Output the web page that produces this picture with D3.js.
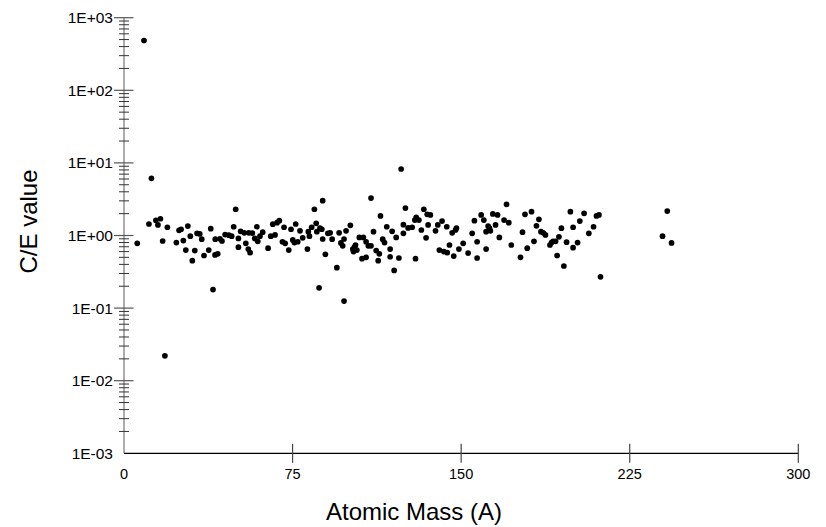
<!DOCTYPE html>
<html lang="en">
<head>
<meta charset="UTF-8">
<title>C/E value vs Atomic Mass</title>
<script src="https://d3js.org/d3.v7.min.js"></script>
<style>
    body { margin: 0; background: #fff; }
    svg text { font-family: "Liberation Sans", Arial, sans-serif; fill: #000; }
</style>
</head>
<body>
<svg id="chart" width="826" height="527"></svg>
<script>
// values
const atomicMass = [
    5.9, 8.9, 11.1, 12.2, 14.2, 15.1, 16.2, 17.2, 18.2, 19.3,
    23.3, 24.5, 25.4, 26.4, 27.5, 28.4, 29.5, 30.4, 31.5, 32.5,
    33.7, 34.6, 35.6, 37.7, 38.6, 39.6, 40.6, 40.5, 41.7, 42.7,
    43.6, 45.0, 46.7, 47.9, 48.8, 49.7, 50.9, 50.9, 51.9, 53.5,
    54.2, 55.3, 56.1, 55.5, 57.1, 58.2, 59.1, 59.5, 60.5, 61.7,
    64.1, 65.3, 66.2, 67.2, 68.1, 69.1, 70.5, 71.2, 71.7, 73.3,
    74.3, 75.1, 75.8, 76.4, 77.3, 78.3, 79.5, 81.6, 82.0, 82.5,
    83.5, 84.7, 85.5, 85.8, 86.8, 87.2, 88.0, 88.4, 88.4, 89.6,
    90.7, 91.7, 92.6, 94.7, 95.7, 96.5, 97.3, 97.9, 97.9, 98.8,
    100.7, 101.8, 102.1, 102.5, 103.0, 103.6, 104.7, 105.9, 106.5, 107.7,
    107.7, 108.7, 109.9, 109.9, 111.0, 112.2, 113.1, 113.6, 114.1, 115.1,
    115.9, 116.9, 118.4, 118.4, 119.3, 120.2, 121.1, 122.3, 123.3, 124.3,
    124.3, 125.2, 126.4, 128.2, 129.4, 129.7, 130.0, 131.2, 132.3, 133.4,
    134.4, 134.9, 135.3, 136.3, 138.6, 139.6, 140.3, 141.5, 142.3, 143.6,
    143.8, 144.8, 146.0, 146.7, 147.5, 147.9, 149.0, 150.9, 153.1, 154.9,
    155.9, 157.1, 157.1, 158.9, 160.1, 161.1, 161.1, 162.0, 162.6, 163.0,
    164.1, 165.3, 166.2, 167.0, 169.1, 170.2, 171.2, 172.3, 176.4, 177.3,
    178.4, 179.4, 181.3, 182.4, 183.5, 184.6, 185.5, 186.5, 187.5, 189.5,
    190.2, 190.9, 192.0, 192.7, 193.5, 194.6, 195.7, 196.9, 198.6, 199.8,
    199.8, 201.8, 202.8, 204.7, 206.8, 208.9, 210.2, 211.3, 212.0, 239.6,
    241.7, 243.6
];
const ceValue = [
    0.78, 485, 1.44, 6.14, 1.62, 1.40, 1.70, 0.84, 0.022, 1.30,
    0.80, 1.18, 1.22, 0.85, 0.63, 1.35, 0.98, 0.45, 0.62, 1.07,
    1.05, 0.89, 0.53, 0.63, 1.24, 0.18, 0.89, 0.54, 0.56, 0.90,
    0.84, 1.03, 1.01, 0.98, 1.32, 2.30, 0.91, 0.69, 1.14, 1.09,
    0.78, 0.65, 0.58, 1.09, 1.08, 0.91, 1.32, 0.83, 0.98, 1.11,
    0.67, 0.98, 1.43, 1.02, 1.50, 1.60, 0.82, 1.30, 0.78, 0.63,
    1.22, 0.87, 0.80, 1.44, 0.82, 1.16, 0.93, 0.65, 1.13, 0.98,
    1.30, 2.30, 1.47, 1.13, 0.19, 1.26, 1.22, 3.02, 0.895, 0.55,
    1.07, 1.09, 0.89, 0.36, 1.09, 0.79, 0.72, 0.895, 0.125, 1.16,
    1.38, 0.65, 0.60, 0.69, 0.74, 0.63, 0.94, 0.48, 0.94, 0.82,
    0.50, 0.72, 3.28, 0.72, 1.13, 0.62, 0.45, 0.56, 1.86, 0.89,
    0.80, 1.32, 0.65, 0.51, 1.14, 0.33, 0.94, 0.49, 8.24, 1.41,
    1.07, 2.39, 1.27, 1.30, 1.63, 0.48, 1.78, 1.63, 1.19, 2.30,
    0.93, 1.96, 1.40, 1.92, 1.16, 1.40, 0.63, 1.58, 0.60, 1.32,
    0.58, 0.74, 1.09, 0.52, 1.19, 1.26, 0.65, 0.78, 0.57, 1.07,
    1.60, 0.82, 0.49, 1.92, 1.63, 1.13, 0.65, 1.35, 1.26, 1.16,
    1.98, 1.40, 1.92, 0.94, 1.63, 2.69, 1.50, 0.74, 0.50, 1.11,
    1.96, 0.67, 2.13, 0.83, 1.36, 1.67, 1.13, 1.09, 1.02, 0.74,
    0.80, 0.83, 0.83, 0.53, 0.96, 1.26, 0.38, 0.81, 2.13, 1.30,
    0.68, 0.80, 1.58, 2.02, 1.07, 1.32, 1.86, 1.92, 0.27, 0.98,
    2.17, 0.79
];
const xTicks = [0, 75, 150, 225, 300];
const yDecades = [1e-3, 1e-2, 1e-1, 1e0, 1e1, 1e2, 1e3];
const yTickLabels = ["1E-03", "1E-02", "1E-01", "1E+00", "1E+01", "1E+02", "1E+03"];
const xTitle = "Atomic Mass (A)";
const yTitle = "C/E value";

const svg = d3.select("#chart");
const plotLeft = 124, plotRight = 798.3, plotTop = 17.7, plotBottom = 453.3;

const x = d3.scaleLinear().domain([0, 300]).range([plotLeft, plotRight]);
const y = d3.scaleLog().domain([1e-3, 1e3]).range([plotBottom, plotTop]);

// y axis: gray line, ticks crossing it
const yAxis = svg.append("g");
yAxis.append("line")
    .attr("x1", plotLeft).attr("x2", plotLeft).attr("y1", plotTop).attr("y2", plotBottom)
    .attr("stroke", "#808080").attr("stroke-width", 1.3);
const minor = y.ticks().filter(v => !yDecades.some(d => Math.abs(v - d) / d < 1e-6));
yAxis.selectAll("line.minor").data(minor).join("line")
    .attr("class", "minor")
    .attr("x1", plotLeft - 5).attr("x2", plotLeft + 5)
    .attr("y1", d => y(d)).attr("y2", d => y(d))
    .attr("stroke", "#333").attr("stroke-width", 1);
yAxis.selectAll("line.major").data(yDecades.slice(1)).join("line")
    .attr("class", "major")
    .attr("x1", plotLeft - 10).attr("x2", plotLeft + 9.5)
    .attr("y1", d => y(d)).attr("y2", d => y(d))
    .attr("stroke", "#555").attr("stroke-width", 1.2);
yAxis.selectAll("text").data(yDecades).join("text")
    .attr("x", plotLeft - 11)
    .attr("y", d => y(d))
    .attr("dy", "0.36em")
    .attr("text-anchor", "end")
    .attr("font-size", 15.5)
    .text((d, i) => yTickLabels[i]);

// x axis: black line with crossing ticks
const xAxis = svg.append("g");
xAxis.append("line")
    .attr("x1", plotLeft).attr("x2", plotRight).attr("y1", plotBottom).attr("y2", plotBottom)
    .attr("stroke", "#000").attr("stroke-width", 1.3);
xAxis.selectAll("line.tick").data(xTicks.slice(1)).join("line")
    .attr("class", "tick")
    .attr("x1", d => x(d)).attr("x2", d => x(d))
    .attr("y1", plotBottom - 9.5).attr("y2", plotBottom + 9.5)
    .attr("stroke", "#444").attr("stroke-width", 1.2);
xAxis.selectAll("text").data(xTicks).join("text")
    .attr("x", d => x(d))
    .attr("y", 478.5)
    .attr("text-anchor", "middle")
    .attr("font-size", 14.5)
    .text(d => d);

// titles
svg.append("text")
    .attr("x", 414).attr("y", 519.5)
    .attr("text-anchor", "middle")
    .attr("font-size", 24)
    .text(xTitle);
svg.append("text")
    .attr("transform", "translate(36.5,221.5) rotate(-90)")
    .attr("text-anchor", "middle")
    .attr("font-size", 24)
    .text(yTitle);

// points
const pts = atomicMass.map((a, i) => ({a: a, v: ceValue[i]}));
svg.append("g").selectAll("circle").data(pts).join("circle")
    .attr("cx", d => x(d.a))
    .attr("cy", d => y(d.v))
    .attr("r", 2.85)
    .attr("fill", "#000");
</script>
</body>
</html>
